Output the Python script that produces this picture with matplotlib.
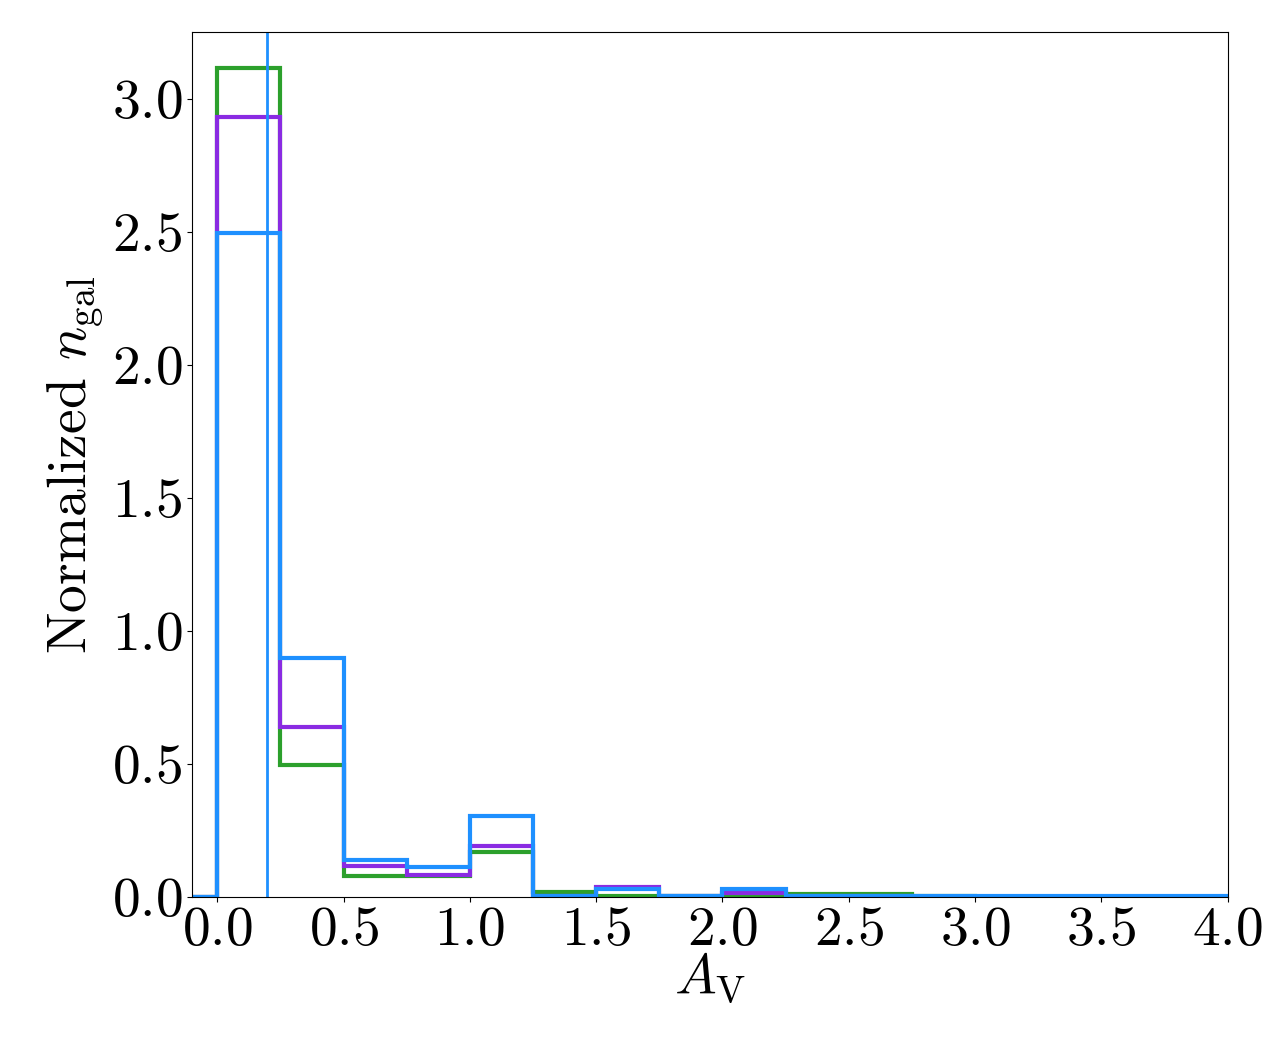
import numpy as np
import matplotlib
matplotlib.use("Agg")
import matplotlib.pyplot as plt

plt.rcParams['font.family'] = 'serif'
plt.rcParams['font.serif'] = ['cmr10']
plt.rcParams['mathtext.fontset'] = 'cm'
plt.rcParams['axes.formatter.use_mathtext'] = True
plt.rcParams['axes.unicode_minus'] = False

# bin edges (width 0.25), first bin below zero is empty
bin_edges = np.arange(-0.25, 4.26, 0.25)

# normalized heights, one per bin
green = [0.0, 3.117, 0.496, 0.077, 0.077, 0.170, 0.017, 0.002, 0.002, 0.002,
         0.013, 0.013, 0.002, 0.001, 0.001, 0.001, 0.001, 0.001]
purple = [0.0, 2.93, 0.639, 0.117, 0.083, 0.193, 0.004, 0.039, 0.002, 0.016,
          0.003, 0.002, 0.001, 0.001, 0.001, 0.001, 0.001, 0.001]
blue = [0.0, 2.496, 0.898, 0.139, 0.114, 0.305, 0.003, 0.029, 0.004, 0.029,
        0.003, 0.003, 0.002, 0.002, 0.002, 0.002, 0.002, 0.002]
av_mark = 0.195

centers = 0.5 * (bin_edges[:-1] + bin_edges[1:])

fig = plt.figure(figsize=(12.8, 10.43), dpi=100)
ax = fig.add_axes([0.15, 0.14, 0.809, 0.829])

ax.hist(centers, bins=bin_edges, weights=green, histtype='step', color='#2ca02c', lw=3)
ax.hist(centers, bins=bin_edges, weights=purple, histtype='step', color='blueviolet', lw=3)
ax.hist(centers, bins=bin_edges, weights=blue, histtype='step', color='dodgerblue', lw=3)
ax.axvline(av_mark, color='dodgerblue', lw=2)

ax.set_xlim(-0.1, 4.0)
ax.set_ylim(0, 3.25)
ax.set_xticks(np.arange(0, 4.01, 0.5))
ax.set_yticks(np.arange(0, 3.01, 0.5))
ax.tick_params(labelsize=40)
ax.set_xlabel(r'$A_{\rm V}$', fontsize=40, labelpad=-4)
ax.set_ylabel(r'Normalized $n_{\rm gal}$', fontsize=40)

fig.savefig('out.png', dpi=100)
